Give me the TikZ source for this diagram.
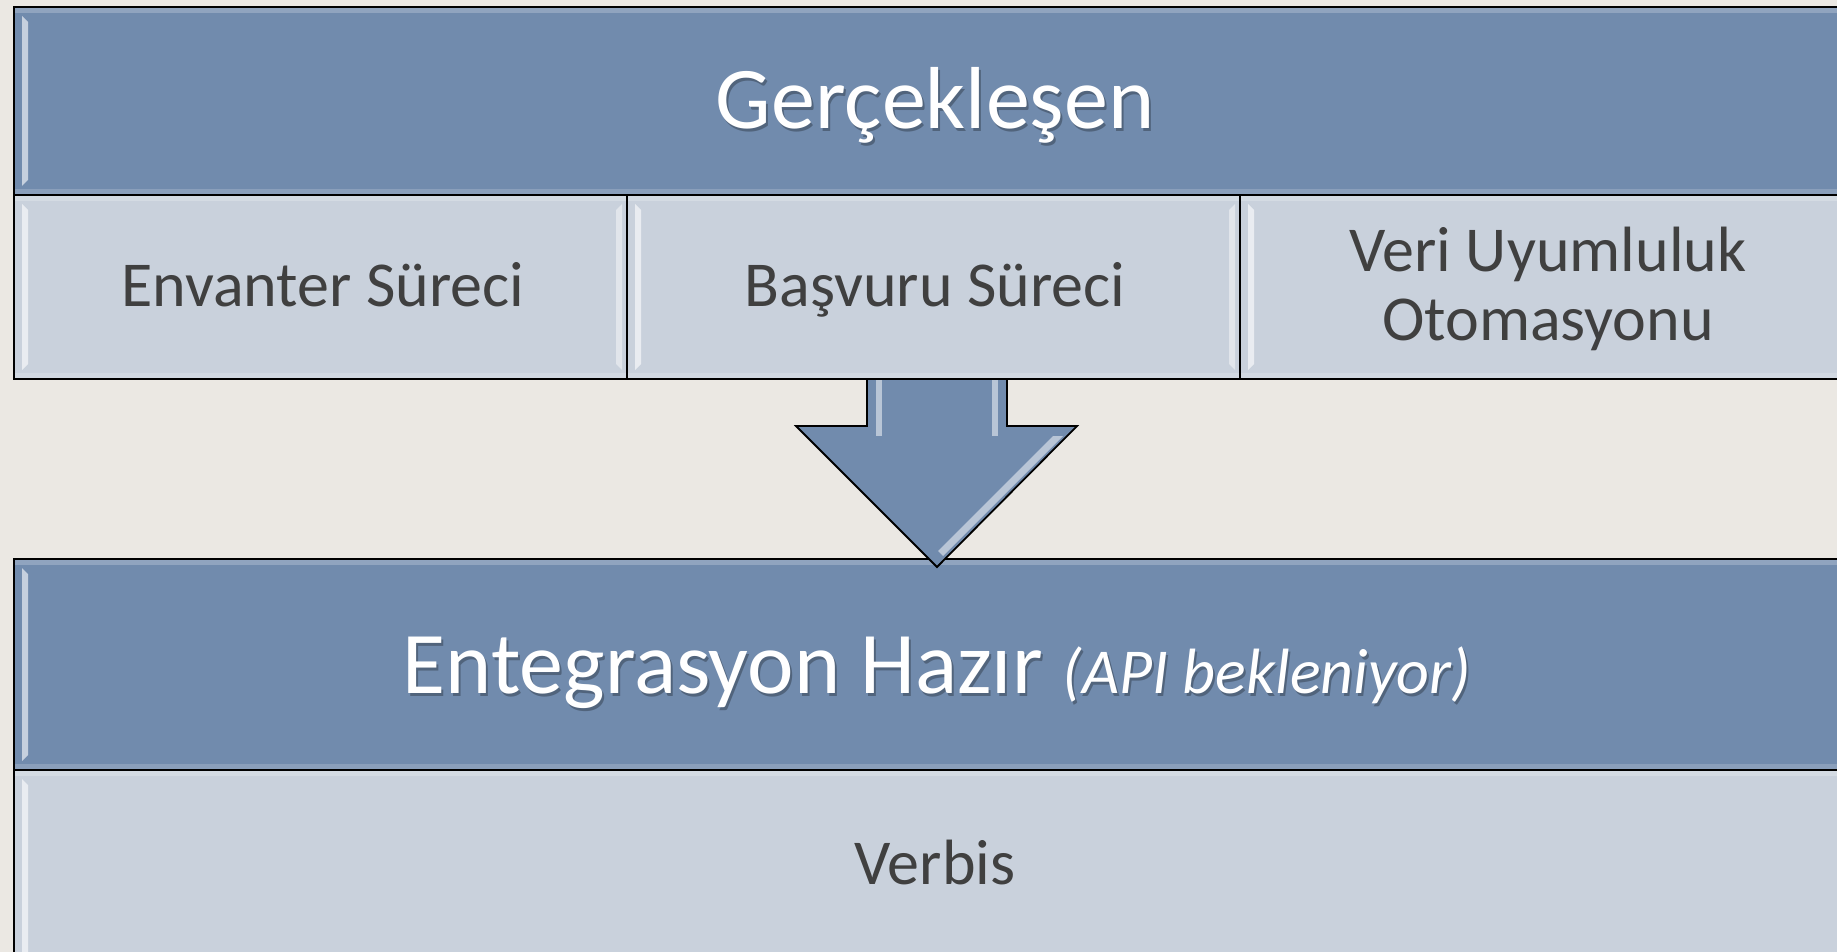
\documentclass[tikz,border=0pt]{standalone}
\usepackage{fontspec}
\setmainfont{Carlito}
\usetikzlibrary{calc}
\definecolor{bgc}{HTML}{EBE8E3}
\definecolor{darkb}{HTML}{718BAD}
\definecolor{lightb}{HTML}{C9D1DC}
\definecolor{txtc}{HTML}{404040}
\begin{document}
\begin{tikzpicture}[x=1pt,y=-1pt,
  cell/.style={draw=black, line width=2pt, inner sep=0pt, outer sep=0pt, anchor=north west},
  bevel/.style={path picture={
    \coordinate (pa) at (path picture bounding box.north west);
    \coordinate (pb) at (path picture bounding box.south east);
    \coordinate (pc) at (path picture bounding box.south west);
    \coordinate (pd) at (path picture bounding box.north east);
    \fill[white, opacity=.22] (pa) rectangle ($(pd)+(0,6)$);
    \fill[white, opacity=.18] ($(pc)+(0,-6)$) rectangle (pb);
    \fill[white, opacity=.6] ($(pa)+(8,9)$) -- ($(pa)+(14,15)$) -- ($(pc)+(14,-15)$) -- ($(pc)+(8,-9)$) -- cycle;
    \fill[white, opacity=.45] ($(pd)+(-5,9)$) -- ($(pd)+(-11,15)$) -- ($(pb)+(-11,-15)$) -- ($(pb)+(-5,-9)$) -- cycle;
  }},
  darkcell/.style={cell, fill=darkb, bevel},
  lightcell/.style={cell, fill=lightb, bevel},
  bigtext/.style={font=\fontsize{88}{100}\selectfont, text=white, inner sep=0pt, anchor=base},
  bigshadow/.style={bigtext, text=black, text opacity=.28},
  smalltext/.style={font=\fontsize{64}{75}\selectfont, text=txtc, inner sep=0pt, anchor=base},
  arrowfill/.style={fill=darkb, draw=black, line width=1.8pt, line join=miter},
  glint/.style={white, opacity=.5}
]
\useasboundingbox (0,0) rectangle (1837,952);
\fill[bgc] (0,0) rectangle (1837,952);
\clip (0,0) rectangle (1837,952);

% lower block
\node[darkcell, minimum width=1839pt, minimum height=211pt] (bot) at (14,559) {};
\node[lightcell, minimum width=1839pt, minimum height=200pt] (verbis) at (14,770) {};

% down arrow (drawn before the upper row so the row's edge lies over the shaft)
\coordinate (as) at (937,379);
\filldraw[arrowfill] ($(as)+(-70,-4)$) -- ($(as)+(-70,47)$) -- ($(as)+(-141,47)$) -- ($(as)+(0,188)$)
  -- ($(as)+(140,47)$) -- ($(as)+(70,47)$) -- ($(as)+(70,-4)$);
\fill[glint] ($(as)+(-61,0)$) rectangle ($(as)+(-55,57)$);
\fill[glint] ($(as)+(55,0)$) rectangle ($(as)+(61,57)$);
\fill[glint] ($(as)+(116,57)$) -- ($(as)+(126,57)$) -- ($(as)+(6,177)$) -- ($(as)+(1,172)$) -- cycle;

% upper block
\node[darkcell, minimum width=1839pt, minimum height=188pt] (top) at (14,7) {};
\node[lightcell, minimum width=613pt, minimum height=184pt] (c1) at (14,195) {};
\node[lightcell, minimum width=613pt, minimum height=184pt] (c2) at (627,195) {};
\node[lightcell, minimum width=613pt, minimum height=184pt] (c3) at (1240,195) {};

% texts
\node[bigshadow] (ttops) at (937,132) {Gerçekleşen};
\node[bigtext] (ttop) at (935,129) {Gerçekleşen};
\node[smalltext] (t1) at (323,306) {Envanter Süreci};
\node[smalltext] (t2) at (935,306) {Başvuru Süreci};
\node[smalltext] (t3a) at (1548,271) {Veri Uyumluluk};
\node[smalltext] (t3b) at (1548,340) {Otomasyonu};
\node[bigshadow] (tbots) at (939,696) {Entegrasyon Hazır {\fontsize{64}{75}\selectfont\itshape (API bekleniyor)}};
\node[bigtext] (tbot) at (937,693) {Entegrasyon Hazır {\fontsize{64}{75}\selectfont\itshape (API bekleniyor)}};
\node[smalltext] (t4) at (935,884) {Verbis};
\end{tikzpicture}
\end{document}
